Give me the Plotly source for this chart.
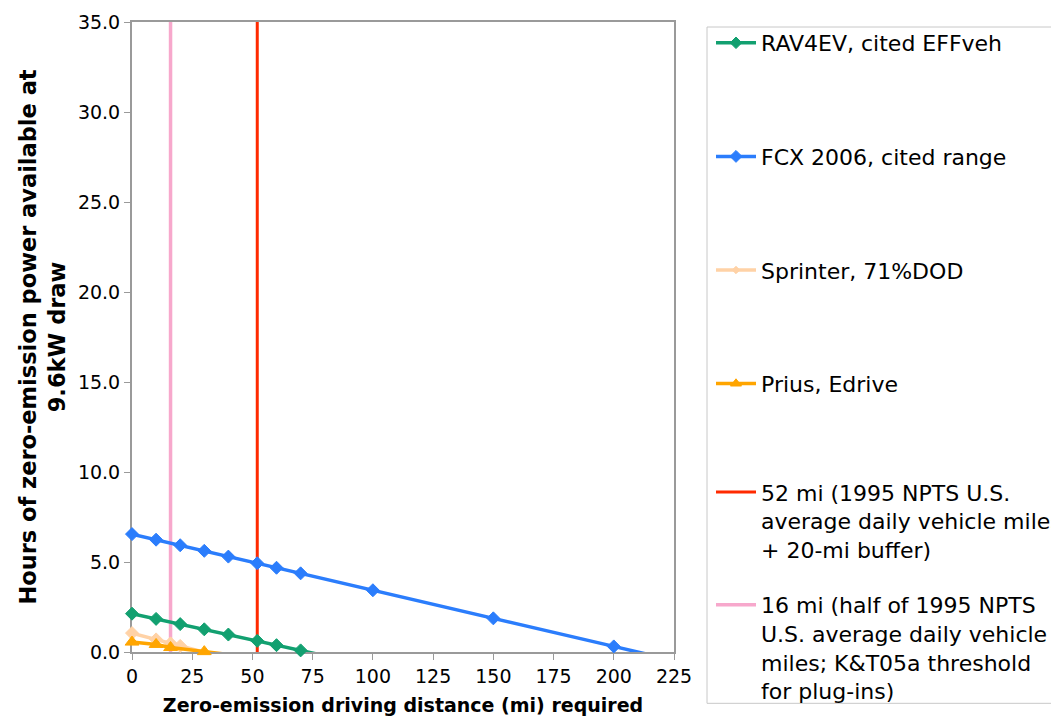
import plotly.graph_objects as go

# ---- data ----
rav_x = [0, 10, 20, 30, 40, 52, 60, 70, 100]
rav_y = [2.13, 1.84, 1.55, 1.26, 0.97, 0.62, 0.38, 0.09, -0.79]

fcx_x = [0, 10, 20, 30, 40, 52, 60, 70, 100, 150, 200, 250]
fcx_y = [6.55, 6.24, 5.93, 5.62, 5.30, 4.93, 4.68, 4.37, 3.43, 1.87, 0.31, -1.25]

spr_x = [0, 10, 16, 20, 30, 40, 52]
spr_y = [1.05, 0.70, 0.48, 0.34, -0.02, -0.37, -0.79]

pri_x = [0, 10, 16, 30, 60]
pri_y = [0.55, 0.42, 0.25, 0.02, -0.46]

ref_52_x = [52, 52]
ref_16_x = [16, 16]
ref_y = [0, 35]

series_names = [
    "RAV4EV, cited EFFveh",
    "FCX 2006, cited range",
    "Sprinter, 71%DOD",
    "Prius, Edrive",
]
ref_names = [
    "52 mi (1995 NPTS U.S.<br>average daily vehicle miles<br>+ 20-mi buffer)",
    "16 mi (half of 1995 NPTS<br>U.S. average daily vehicle<br>miles; K&T05a threshold<br>for plug-ins)",
]

x_ticks = [0, 25, 50, 75, 100, 125, 150, 175, 200, 225]
y_ticks = [0, 5, 10, 15, 20, 25, 30, 35]
X_MAX, Y_MAX = 225, 35

FONT = "DejaVu Sans"
GRAY = "#9A9A9A"

# page body adds an 8px offset; work in screenshot pixels and subtract it
OFF = 8
W, H = 1059 - OFF, 716 - OFF
L, R, T, B = 132 - OFF, 674 - OFF, 22 - OFF, 651.7 - OFF
PW, PH = R - L, B - T


def px_x(p):
    return (p - OFF - L) / PW


def px_y(p):
    return (B - (p - OFF)) / PH


def sizes(xs, ys, s):
    return [s if (0 <= x <= X_MAX and 0 <= y <= Y_MAX) else 0 for x, y in zip(xs, ys)]


fig = go.Figure()

# reference vertical lines (drawn underneath the series)
fig.add_trace(go.Scatter(x=ref_52_x, y=ref_y, mode="lines", name=ref_names[0],
                         line=dict(color="#FF2A00", width=3),
                         legend="legend2", legendgroup="r52"))
fig.add_trace(go.Scatter(x=ref_16_x, y=ref_y, mode="lines", name=ref_names[1],
                         line=dict(color="#F7A8CC", width=3.5),
                         legend="legend2", legendgroup="r16"))

specs = [
    (rav_x, rav_y, series_names[0], "#12A070", "diamond", 10),
    (fcx_x, fcx_y, series_names[1], "#2B7DFC", "diamond", 10),
    (spr_x, spr_y, series_names[2], "#FFD2A6", "diamond", 10),
    (pri_x, pri_y, series_names[3], "#FFA500", "triangle-up", 12),
]
for i, (xs, ys, nm, col, sym, ms) in enumerate(specs):
    fig.add_trace(go.Scatter(
        x=xs, y=ys, mode="lines+markers", name=nm,
        line=dict(color=col, width=3.5),
        marker=dict(symbol=sym, size=sizes(xs, ys, ms), color=col, opacity=1,
                    line=dict(width=1, color=col)),
        cliponaxis=False, legendgroup="s%d" % i,
    ))

# legend frame
fig.add_shape(type="rect", xref="paper", yref="paper",
              x0=px_x(707), x1=px_x(1120), y0=px_y(703), y1=px_y(27),
              line=dict(color="#C8C8C8", width=1), fillcolor="rgba(0,0,0,0)")

fig.update_layout(
    width=W, height=H, autosize=False,
    margin=dict(l=L, r=W - R, t=T, b=H - B, autoexpand=False),
    paper_bgcolor="white", plot_bgcolor="white",
    font=dict(family=FONT, size=19, color="black"),
    showlegend=True,
    legend=dict(x=px_x(711), y=px_y(22), xanchor="left", yanchor="top",
                font=dict(family=FONT, size=22, color="black"),
                bgcolor="rgba(0,0,0,0)", borderwidth=0, itemwidth=40,
                tracegroupgap=82, valign="top", traceorder="grouped"),
    legend2=dict(x=px_x(711), y=px_y(471), xanchor="left", yanchor="top",
                 font=dict(family=FONT, size=22, color="black"),
                 bgcolor="rgba(0,0,0,0)", borderwidth=0, itemwidth=40,
                 tracegroupgap=24, valign="top", traceorder="grouped"),
)

fig.update_xaxes(range=[0, X_MAX], tickvals=x_ticks, ticks="outside", ticklen=6,
                 tickcolor=GRAY, showline=True, linecolor=GRAY, linewidth=2,
                 mirror=True, showgrid=False, zeroline=False, layer="below traces",
                 automargin=False,
                 tickfont=dict(family=FONT, size=19),
                 title=dict(text="<b>Zero-emission driving distance (mi) required</b>",
                            font=dict(family=FONT, size=19), standoff=14))
fig.update_yaxes(range=[0, Y_MAX], tickvals=y_ticks, tickformat=".1f", ticks="outside",
                 ticklen=6, tickcolor=GRAY, showline=True, linecolor=GRAY, linewidth=2,
                 mirror=True, showgrid=False, zeroline=False, layer="below traces",
                 automargin=False,
                 tickfont=dict(family=FONT, size=19),
                 title=dict(text="<b>Hours of zero-emission power available at<br>9.6kW draw</b>",
                            font=dict(family=FONT, size=22.5), standoff=6))

fig.write_html("out.html")
